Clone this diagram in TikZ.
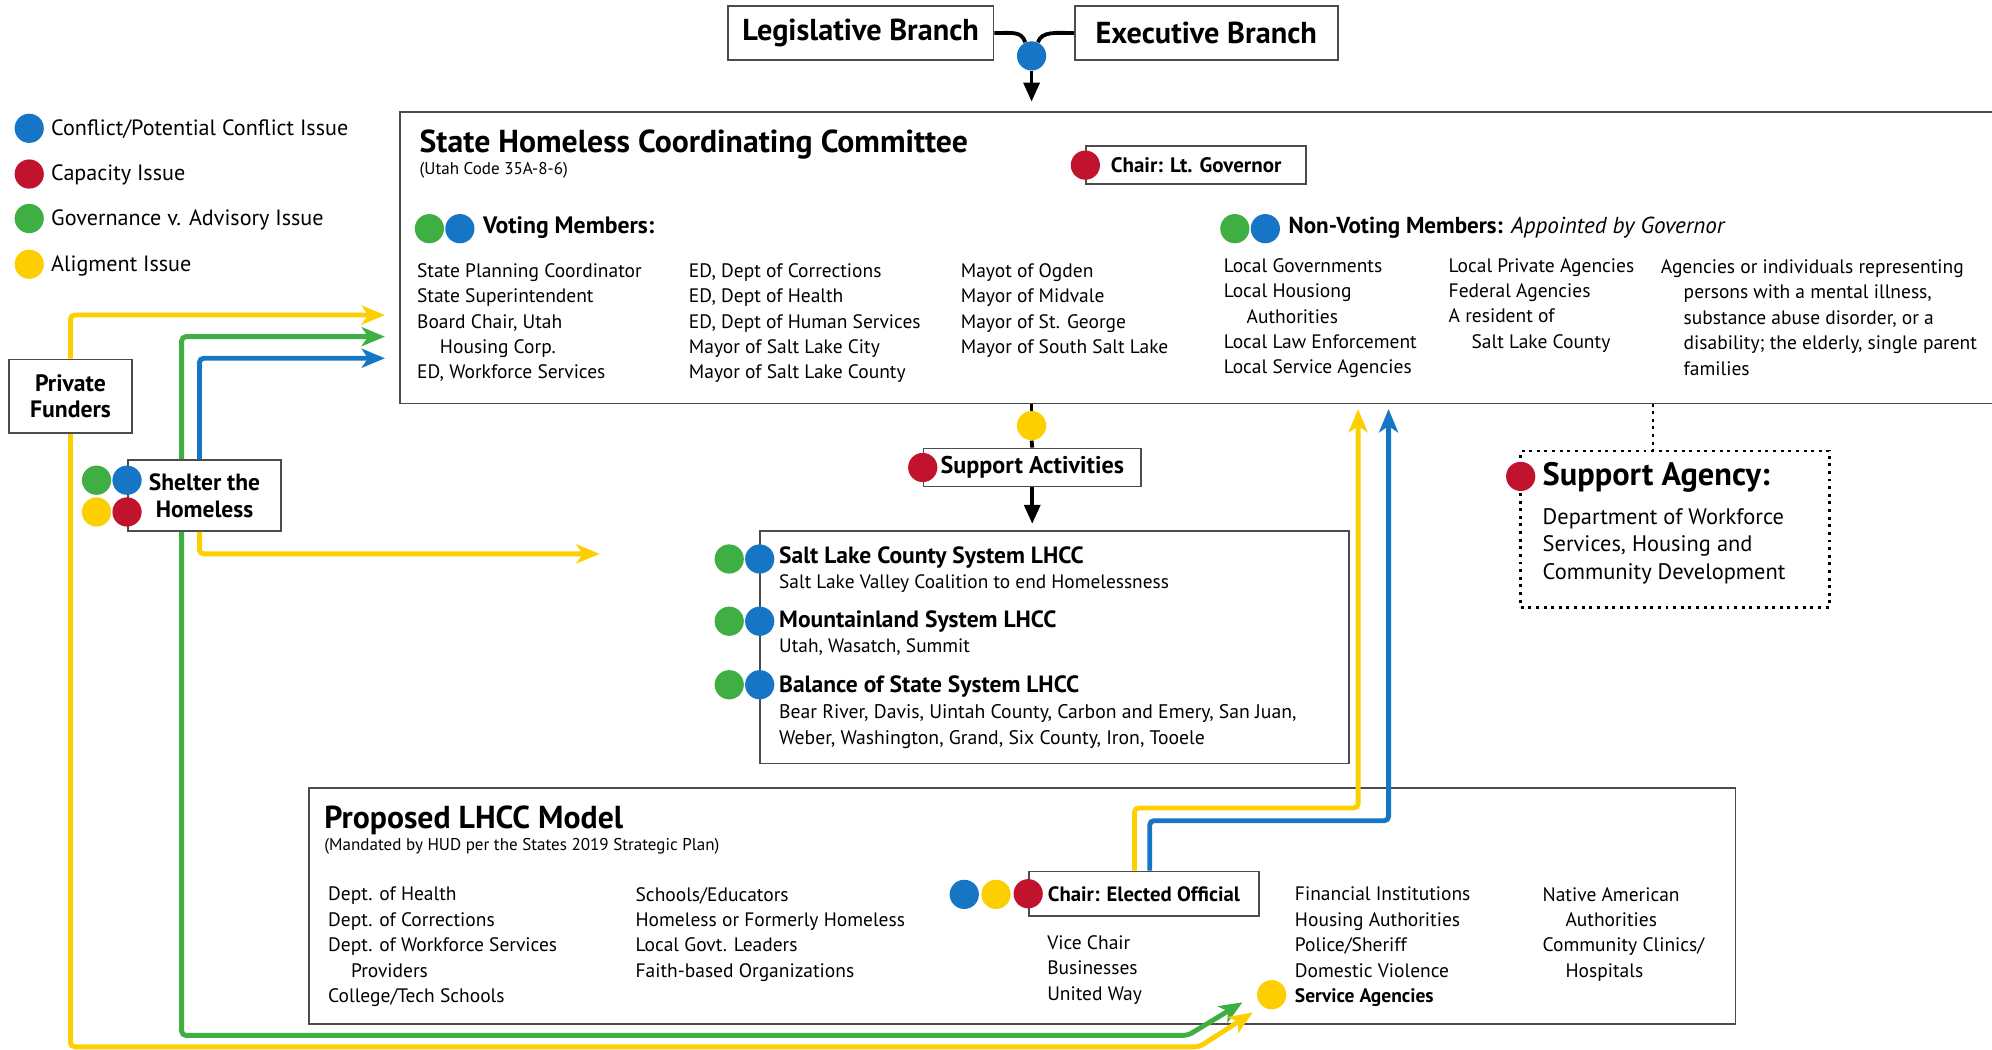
\documentclass[tikz,border=0pt]{standalone}
\usepackage{fontspec}
\setmainfont{PT Sans}
\usetikzlibrary{arrows.meta}

\definecolor{cblue}{RGB}{23,117,198}
\definecolor{cred}{RGB}{193,18,46}
\definecolor{cgreen}{RGB}{64,175,67}
\definecolor{cyellow}{RGB}{253,206,0}

\newcommand\fsz[2]{\fontsize{#1}{#2}\selectfont}
\newcommand\ind{\hspace*{10.8pt}}

\tikzset{
  box/.style={draw=black!70, line width=0.8pt, fill=white, inner sep=0pt},
  dot/.style={circle, fill=#1, inner sep=0pt, minimum size=13.8pt},
  flow/.style={draw=#1, line width=2.3pt, rounded corners=2pt,
    -{Stealth[length=11pt,width=9pt,inset=3pt]}},
  link/.style={line width=1.8pt, -{Triangle[length=9pt,width=7.5pt]}},
  txt/.style={inner sep=0pt, anchor=north west, align=left, font=\fsz{9.2}{12}},
  lbl/.style={inner sep=0pt, anchor=west},
}

\begin{document}
\begin{tikzpicture}[x=0.6pt,y=-0.6pt]
  \useasboundingbox (0,0) rectangle (1568,826);

  % legend
  \node[dot=cblue]   (lgb) at (23,101) {};
  \node[dot=cred]    (lgr) at (23,137) {};
  \node[dot=cgreen]  (lgg) at (23,172) {};
  \node[dot=cyellow] (lgy) at (23,208) {};
  \node[lbl, font=\fsz{10.45}{12}] at (40,102) {Conflict/Potential Conflict Issue};
  \node[lbl, font=\fsz{10.45}{12}] at (40,138) {Capacity Issue};
  \node[lbl, font=\fsz{10.45}{12}] at (40,173) {Governance v. Advisory Issue};
  \node[lbl, font=\fsz{10.45}{12}] at (40,209) {Aligment Issue};

  % branches
  \node[box, minimum width=125.4pt, minimum height=25.2pt, font=\fsz{14.3}{16}\bfseries]
    (leg) at (677.5,26) {Legislative Branch};
  \node[box, minimum width=124.2pt, minimum height=25.2pt, font=\fsz{14.3}{16}\bfseries]
    (exec) at (949.5,26) {Executive Branch};
  \node[dot=cblue] (bdot) at (812,44) {};

  % state committee
  \node[inner sep=0pt, minimum width=751.8pt, minimum height=137.4pt, anchor=north west]
    (shcc) at (315,88) {};
  \draw[draw=black!70, line width=0.8pt] (shcc.north east) -- (shcc.north west)
    -- (shcc.south west) -- (shcc.south east);
  \node[lbl, font=\fsz{15}{17}\bfseries] (shcct) at (330,114) {State Homeless Coordinating Committee};
  \node[lbl, font=\fsz{8.05}{9}] at (330,134) {(Utah Code 35A-8-6)};
  \node[box, minimum width=103.8pt, minimum height=18pt, font=\fsz{9.9}{11}\bfseries]
    (ltgov) at (941.5,130) {Chair: Lt. Governor};
  \node[dot=cred] at (ltgov.west) {};

  \node[dot=cgreen] at (338,180) {};
  \node[dot=cblue]  at (362,180) {};
  \node[lbl, font=\fsz{11.2}{13}\bfseries] at (380,179) {Voting Members:};
  \node[txt] (vote1) at (328,207) {State Planning Coordinator\\State Superintendent\\
    Board Chair, Utah\\\ind Housing Corp.\\ED, Workforce Services};
  \node[txt] (vote2) at (542,207) {ED, Dept of Corrections\\ED, Dept of Health\\
    ED, Dept of Human Services\\Mayor of Salt Lake City\\Mayor of Salt Lake County};
  \node[txt] (vote3) at (756,207) {Mayot of Ogden\\Mayor of Midvale\\
    Mayor of St. George\\Mayor of South Salt Lake};

  \node[dot=cgreen] at (972,180) {};
  \node[dot=cblue]  at (996,180) {};
  \node[lbl, font=\fsz{10.9}{12}] at (1014,179)
    {\textbf{Non-Voting Members:} \textit{Appointed by Governor}};
  \node[txt] (nvote1) at (963,203) {Local Governments\\Local Housiong\\
    \ind Authorities\\Local Law Enforcement\\Local Service Agencies};
  \node[txt] (nvote2) at (1140,203) {Local Private Agencies\\Federal Agencies\\
    A resident of\\\ind Salt Lake County};
  \node[txt] (nvote3) at (1307,204) {Agencies or individuals representing\\
    \ind persons with a mental illness,\\\ind substance abuse disorder, or a\\
    \ind disability; the elderly, single parent\\\ind families};

  % support activities
  \node[dot=cyellow] (ydot) at (812,335) {};
  \node[box, minimum width=102.6pt, minimum height=18pt, font=\fsz{11.4}{13}\bfseries]
    (supp) at (812.5,368) {Support Activities};
  \node[dot=cred] at (supp.west) {};

  % support agency
  \node[draw, line width=1.2pt, dash pattern=on 1.4pt off 2.2pt, inner sep=0pt,
    minimum width=145.8pt, minimum height=73.8pt] (agency) at (1318.5,416.5) {};
  \node[dot=cred] at (1197,375) {};
  \node[lbl, font=\fsz{15.3}{17}\bfseries] at (1214,376) {Support Agency:};
  \node[txt, font=\fsz{10.6}{12.9}] (agencyt) at (1214,400)
    {Department of Workforce\\Services, Housing and\\Community Development};

  % local coordinating councils
  \node[box, minimum width=278.4pt, minimum height=109.8pt] (lhcc) at (830,509.5) {};
  \foreach \y in {440,489,539} {
    \node[dot=cgreen] at (574,\y) {};
    \node[dot=cblue]  at (598,\y) {};
  }
  \node[lbl, font=\fsz{11.1}{13}\bfseries] at (613,439) {Salt Lake County System LHCC};
  \node[lbl, font=\fsz{9.15}{12}] at (613,459) {Salt Lake Valley Coalition to end Homelessness};
  \node[lbl, font=\fsz{11.1}{13}\bfseries] at (613,489) {Mountainland System LHCC};
  \node[lbl, font=\fsz{9.15}{12}] at (613,509) {Utah, Wasatch, Summit};
  \node[lbl, font=\fsz{11.1}{13}\bfseries] at (613,540) {Balance of State System LHCC};
  \node[txt, font=\fsz{9.3}{12.3}] at (613,554) {Bear River, Davis, Uintah County, Carbon and Emery, San Juan,\\
    Weber, Washington, Grand, Six County, Iron, Tooele};

  % funders and shelter
  \node[box, minimum width=58.2pt, minimum height=34.8pt, align=center,
    font=\fsz{11.2}{12.6}\bfseries] (pf) at (55.5,312) {Private\\Funders};
  \node[box, minimum width=72pt, minimum height=33.6pt, align=center,
    font=\fsz{11.1}{12.6}\bfseries] (shelter) at (161,390) {Shelter the\\Homeless};
  \node[dot=cgreen]  at (76,378) {};
  \node[dot=cblue]   at (100,378) {};
  \node[dot=cyellow] at (76,403) {};
  \node[dot=cred]    at (100,403) {};

  % proposed model
  \node[box, minimum width=673.8pt, minimum height=111.6pt] (model) at (804.5,713) {};
  \node[lbl, font=\fsz{15}{17}\bfseries] at (255,646) {Proposed LHCC Model};
  \node[lbl, font=\fsz{8.05}{9}] at (255,666) {(Mandated by HUD per the States 2019 Strategic Plan)};
  \node[box, minimum width=108.6pt, minimum height=21pt, font=\fsz{9.8}{11}\bfseries]
    (elect) at (900.5,703.5) {Chair: Elected Official};
  \node[dot=cblue]   at (759,704) {};
  \node[dot=cyellow] at (784,704) {};
  \node[dot=cred]    at (elect.west) {};
  \node[txt] (mod1) at (258,698) {Dept. of Health\\Dept. of Corrections\\
    Dept. of Workforce Services\\\ind Providers\\College/Tech Schools};
  \node[txt] (mod2) at (500,698) {Schools/Educators\\Homeless or Formerly Homeless\\
    Local Govt. Leaders\\Faith-based Organizations};
  \node[txt] (mod3) at (824,736) {Vice Chair\\Businesses\\United Way};
  \node[txt] (mod4) at (1019,698) {Financial Institutions\\Housing Authorities\\
    Police/Sheriff\\Domestic Violence\\\textbf{Service Agencies}};
  \node[txt] (mod5) at (1214,698) {Native American\\\ind Authorities\\
    Community Clinics/\\\ind Hospitals};
  \node[dot=cyellow] (sadot) at (1001,783) {};

  % free ends of the flows
  \coordinate (inY) at (303,248);
  \coordinate (inG) at (303,265);
  \coordinate (inB) at (303,282);
  \coordinate (lhccY) at (472,436);
  \coordinate (svcG) at (978,789);
  \coordinate (svcY) at (986,797);
  \coordinate (shccY) at (1069,322);
  \coordinate (shccB) at (1093,322);

  % black links
  \draw[line width=1.8pt] (leg.east) .. controls +(14,0) and +(-3,-9) .. (bdot.115);
  \draw[line width=1.8pt] (exec.west) .. controls +(-14,0) and +(3,-9) .. (bdot.65);
  \draw[link, shorten >=4.8pt] (bdot.south) -- (bdot |- shcc.north);
  \draw[line width=1.8pt] (shcc.south -| ydot) -- (ydot.north);
  \draw[line width=1.8pt] (ydot.south) -- (supp.north);
  \draw[link, shorten >=3pt] (supp.south) -- (supp |- lhcc.north);
  \draw[line width=1.2pt, dash pattern=on 1.4pt off 2.2pt]
    (shcc.south -| 1301,0) -- (agency.north -| 1301,0);

  % coloured flows
  \draw[flow=cyellow] (pf.north) |- (inY);
  \draw[flow=cgreen] ([xshift=-10.8pt]shelter.north) |- (inG);
  \draw[flow=cblue] ([xshift=-2.4pt]shelter.north) |- (inB);
  \draw[flow=cyellow] ([xshift=-2.4pt]shelter.south) |- (lhccY);
  \draw[flow=cgreen] ([xshift=-10.8pt]shelter.south) |- (935,815) -- (svcG);
  \draw[flow=cyellow] (pf.south) |- (944,824) -- (svcY);
  \draw[flow=cyellow] ([xshift=-4.5pt]elect.north) |- (1069,636) -- (shccY);
  \draw[flow=cblue] ([xshift=2.7pt]elect.north) |- (1093,646) -- (shccB);
\end{tikzpicture}
\end{document}
